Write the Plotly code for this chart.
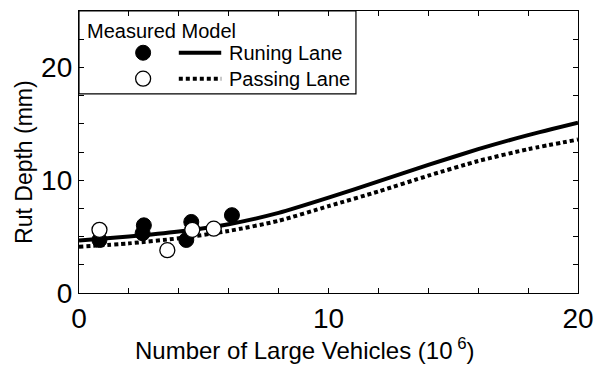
import plotly.graph_objects as go

# Measured rut depth (mm) vs. cumulative large vehicles (10^6)
run_meas_x = [0.82, 2.6, 2.55, 4.5, 4.3, 6.13]
run_meas_y = [4.7, 6.0, 5.3, 6.3, 4.7, 6.9]
pass_meas_x = [0.82, 3.54, 4.54, 5.4]
pass_meas_y = [5.6, 3.8, 5.6, 5.7]

# Model predictions
model_x = [0, 2, 4, 6, 8, 10, 12, 14, 16, 18, 20]
run_model_y = [4.65, 5.0, 5.45, 6.1, 7.1, 8.45, 9.9, 11.35, 12.75, 14.0, 15.1]
pass_model_y = [4.1, 4.4, 4.85, 5.5, 6.4, 7.7, 9.0, 10.4, 11.7, 12.75, 13.6]

FONT = "Liberation Sans, Arial, sans-serif"

# plot area in pixels (used to place the axis titles)
L, R, T, B, W, H = 79, 22, 10, 77, 604, 370
PW, PH = W - L - R, H - T - B


def px_to_paper(px, py):
    return (px - L) / PW, (H - B - py) / PH


fig = go.Figure()
fig.add_trace(go.Scatter(x=model_x, y=run_model_y, mode="lines",
                         line=dict(color="black", width=4, shape="spline", smoothing=0.6),
                         name="Runing Lane"))
fig.add_trace(go.Scatter(x=model_x, y=pass_model_y, mode="lines",
                         line=dict(color="black", width=4, dash="4px,3px",
                                   shape="spline", smoothing=0.6),
                         name="Passing Lane"))
fig.add_trace(go.Scatter(x=run_meas_x, y=run_meas_y, mode="markers",
                         marker=dict(size=15, color="black", line=dict(color="black", width=1)),
                         name="Running measured"))
fig.add_trace(go.Scatter(x=pass_meas_x, y=pass_meas_y, mode="markers",
                         marker=dict(size=15, color="white", line=dict(color="black", width=1.3)),
                         name="Passing measured"))

# Legend box drawn by hand (two columns: measured / model)
shapes = [
    dict(type="rect", xref="x", yref="y", x0=0, x1=11.1, y0=17.65, y1=25,
         line=dict(color="black", width=1.2), fillcolor="rgba(0,0,0,0)"),
    dict(type="circle", xref="x", yref="y", xsizemode="pixel", ysizemode="pixel",
         xanchor=2.57, yanchor=21.3, x0=-7.5, x1=7.5, y0=-7.5, y1=7.5,
         fillcolor="black", line=dict(color="black", width=1)),
    dict(type="circle", xref="x", yref="y", xsizemode="pixel", ysizemode="pixel",
         xanchor=2.57, yanchor=19.0, x0=-7.5, x1=7.5, y0=-7.5, y1=7.5,
         fillcolor="white", line=dict(color="black", width=1.3)),
    dict(type="line", xref="x", yref="y", x0=4.0, x1=5.7, y0=21.3, y1=21.3,
         line=dict(color="black", width=4)),
    dict(type="line", xref="x", yref="y", x0=4.0, x1=5.7, y0=19.0, y1=19.0,
         line=dict(color="black", width=4, dash="4px,3px")),
]

xt_x, xt_y = px_to_paper(307, 349)
yt_x, yt_y = px_to_paper(24, 161)
annotations = [
    dict(x=0.25, y=23.25, xref="x", yref="y", text="Measured Model", showarrow=False,
         xanchor="left", yanchor="middle", font=dict(size=20, family=FONT, color="black")),
    dict(x=5.95, y=21.3, xref="x", yref="y", text="Runing Lane", showarrow=False,
         xanchor="left", yanchor="middle", font=dict(size=20, family=FONT, color="black")),
    dict(x=5.95, y=19.0, xref="x", yref="y", text="Passing Lane", showarrow=False,
         xanchor="left", yanchor="middle", font=dict(size=20, family=FONT, color="black")),
    # axis titles
    dict(x=xt_x, y=xt_y, xref="paper", yref="paper",
         text="Number of Large Vehicles (10<sup> 6</sup>)", showarrow=False,
         xanchor="center", yanchor="middle",
         font=dict(size=24, family=FONT, color="black")),
    dict(x=yt_x, y=yt_y, xref="paper", yref="paper",
         text="Rut Depth (mm)", showarrow=False, textangle=-90,
         xanchor="center", yanchor="middle",
         font=dict(size=23, family=FONT, color="black")),
]

axis_common = dict(showline=True, linecolor="black", linewidth=1.3, mirror="allticks",
                   ticks="inside", ticklen=5, tickwidth=1, tickcolor="black",
                   showgrid=False, zeroline=False,
                   tickfont=dict(size=28, family=FONT, color="black"))

fig.update_layout(
    width=W, height=H,
    margin=dict(l=L, r=R, t=T, b=B),
    paper_bgcolor="white", plot_bgcolor="white",
    showlegend=False,
    shapes=shapes, annotations=annotations,
    xaxis=dict(range=[0, 20], tickvals=[0, 10, 20],
               minor=dict(ticks="inside", dtick=2, ticklen=5, tickwidth=1,
                          tickcolor="black", showgrid=False),
               **axis_common),
    yaxis=dict(range=[0, 25], tickvals=[0, 10, 20],
               minor=dict(ticks="inside", dtick=2.5, ticklen=5, tickwidth=1,
                          tickcolor="black", showgrid=False),
               **axis_common),
)

fig.write_html("out.html")
